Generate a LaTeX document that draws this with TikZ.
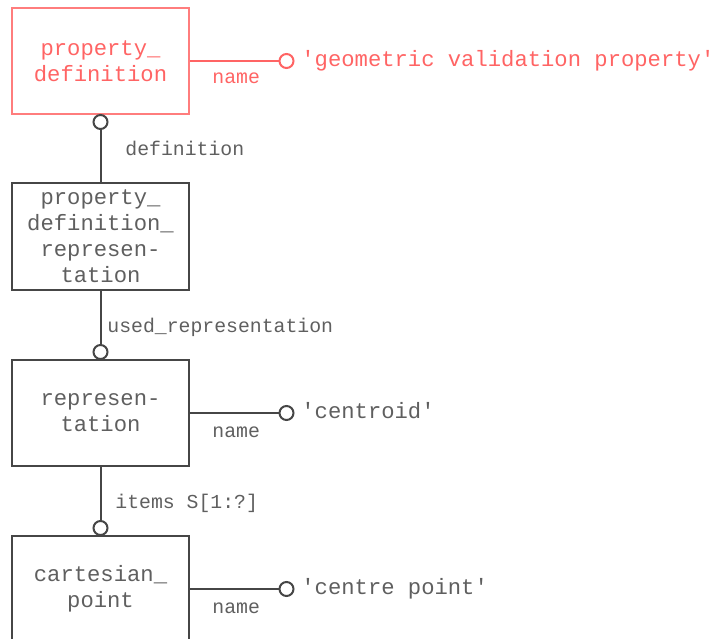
\documentclass[tikz,border=0pt]{standalone}
\usepackage{fontspec}
\setmainfont{Liberation Mono}
\definecolor{redc}{RGB}{255,100,100}
\definecolor{redb}{RGB}{255,125,125}
\definecolor{linegray}{RGB}{70,70,70}
\definecolor{textgray}{RGB}{95,95,95}
\newcommand{\boxfont}{\fontsize{11.1bp}{13bp}\selectfont}
\newcommand{\lblfont}{\fontsize{9.9bp}{11bp}\selectfont}
\newcommand{\sq}{\textquotesingle}
\begin{document}
\begin{tikzpicture}[x=0.5bp,y=-0.5bp,
  ent/.style={draw=linegray, line width=1bp, minimum width=88.5bp, minimum height=53bp,
    inner sep=0, align=center, font=\boxfont, text=textgray},
  redent/.style={ent, draw=redb, text=redc},
  ring/.style={circle, draw=linegray, line width=1bp, fill=white, minimum size=7bp, inner sep=0},
  redring/.style={ring, draw=redc},
  conn/.style={draw=linegray, line width=1bp},
  redconn/.style={draw=redc, line width=1bp},
  lbl/.style={anchor=base west, inner sep=0, font=\lblfont, text=textgray},
  redlbl/.style={lbl, text=redc},
  val/.style={anchor=base west, inner sep=0, font=\boxfont, text=textgray},
  redval/.style={val, text=redc}]
\useasboundingbox (0,0) rectangle (721,639);
\clip (0,0) rectangle (721,639);

% entities
\node[redent] (pd) at (100.5,61) {property\_\\definition};
\node[ent] (pdr) at (100.5,236.5) {property\_\\definition\_\\represen-\\tation};
\node[ent] (rep) at (100.5,413) {represen-\\tation};
\node[ent] (cpt) at (100.5,589) {cartesian\_\\point};

% rings
\node[redring] (r1) at (286.5,61) {};
\node[ring] (r2) at (100.5,122) {};
\node[ring] (r3) at (100.5,352) {};
\node[ring] (r4) at (286.5,413) {};
\node[ring] (r5) at (100.5,528) {};
\node[ring] (r6) at (286.5,589) {};

% connectors
\draw[redconn] (pd.east) -- (r1.west);
\draw[conn] (r2.south) -- (pdr.north);
\draw[conn] (pdr.south) -- (r3.north);
\draw[conn] (rep.east) -- (r4.west);
\draw[conn] (rep.south) -- (r5.north);
\draw[conn] (cpt.east) -- (r6.west);

% values
\node[redval] (v1) at (301,67) {\sq geometric validation property\sq};
\node[val] (v2) at (301,418) {\sq centroid\sq};
\node[val] (v3) at (301,594) {\sq centre point\sq};

% labels
\node[redlbl] (l1) at (212,84) {name};
\node[lbl] (l2) at (125,155) {definition};
\node[lbl] (l3) at (107,332) {used\_representation};
\node[lbl] (l4) at (212,437) {name};
\node[lbl] (l5) at (115,508) {items S[1:?]};
\node[lbl] (l6) at (212,613) {name};
\end{tikzpicture}
\end{document}
